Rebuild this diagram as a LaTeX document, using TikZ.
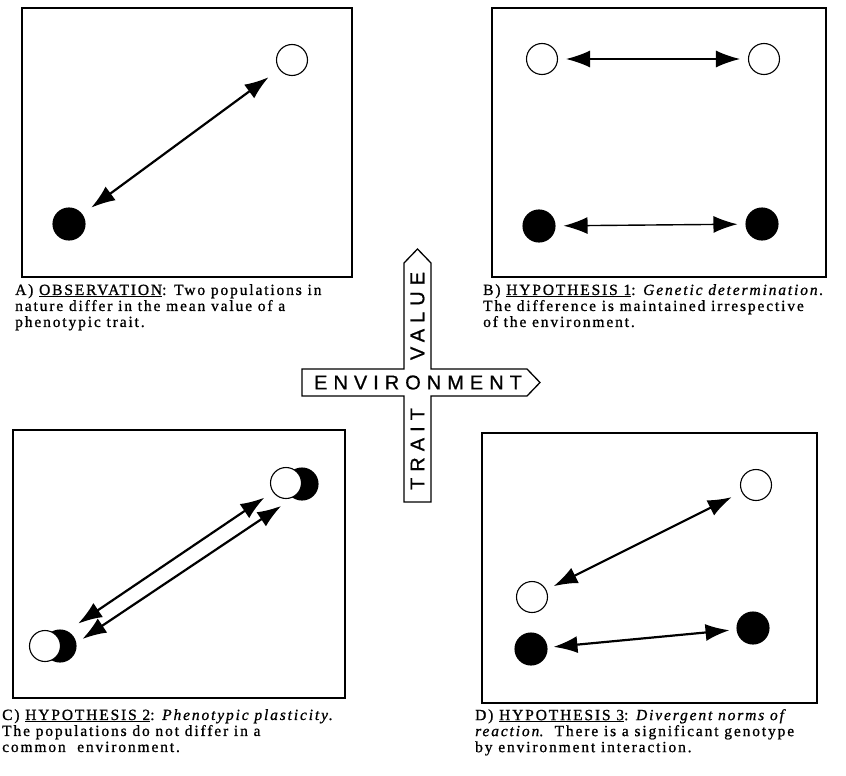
\documentclass[tikz,border=0pt]{standalone}
\usepackage{fontspec}
\setmainfont{Liberation Serif}
\newfontfamily\capfont[LetterSpace=12,FakeBold=1]{Liberation Serif}
\newfontfamily\signfont[LetterSpace=30,FakeBold=0.8]{Liberation Sans}
\usetikzlibrary{arrows.meta}

\begin{document}
\begin{tikzpicture}[
  x=1pt, y=-1pt,
  frame/.style={draw=black, line width=1.3pt},
  opendot/.style={circle, draw=black, fill=white, line width=1.1pt,
                  minimum size=31pt, inner sep=0pt},
  fulldot/.style={circle, draw=black, fill=black, line width=1.1pt,
                  minimum size=32pt, inner sep=0pt},
  arr/.style={{Latex[length=24pt,width=17pt]}-{Latex[length=24pt,width=17pt]},
              line width=2.2pt, shorten <=10pt, shorten >=10pt},
  thinarr/.style={arr, line width=1.4pt, shorten <=8pt, shorten >=8pt},
  caption/.style={anchor=north west, inner sep=0pt, align=left,
                  font=\capfont\fontsize{15.5}{16}\selectfont},
  sign/.style={font=\signfont\fontsize{20}{20}\selectfont, inner sep=0pt}
]
  \useasboundingbox (0,0) rectangle (846,776);

  %% ── Panel frames ──────────────────────────────────────────────────
  \draw[frame] (22,8)   rectangle (352,277);
  \draw[frame] (492,8)  rectangle (826,277);
  \draw[frame] (13,430) rectangle (345,698);
  \draw[frame] (482,433) rectangle (817,703);

  %% ── A) observation ────────────────────────────────────────────────
  \node[opendot] (aopen) at (292,60)  {};
  \node[fulldot] (afull) at (69,224)  {};
  \draw[arr, shorten <=11pt, shorten >=13pt] (afull) -- (aopen);

  %% ── B) hypothesis 1 ───────────────────────────────────────────────
  \node[opendot] (bopenl) at (542,59)  {};
  \node[opendot] (bopenr) at (764,59)  {};
  \node[fulldot] (bfulll) at (539,226) {};
  \node[fulldot] (bfullr) at (762,224) {};
  \draw[thinarr] (bopenl) -- (bopenr);
  \draw[thinarr] (bfulll) -- (bfullr);

  %% ── C) hypothesis 2 ───────────────────────────────────────────────
  \node[fulldot] (cfullr) at (302,484) {};
  \node[opendot] (copenr) at (286,483) {};
  \node[fulldot] (cfulll) at (60,646)  {};
  \node[opendot] (copenl) at (45,646)  {};
  \draw[arr, shorten <=24pt, shorten >=10pt] (copenl) -- (copenr);
  \draw[arr, shorten <=27pt, shorten >=25pt]
    ([yshift=-8pt]cfulll.center) -- ([yshift=-8pt]cfullr.center);

  %% ── D) hypothesis 3 ───────────────────────────────────────────────
  \node[opendot] (dopenr) at (756,485) {};
  \node[opendot] (dopenl) at (532,597) {};
  \node[fulldot] (dfulll) at (531,649) {};
  \node[fulldot] (dfullr) at (753,628) {};
  \draw[arr, shorten <=8pt, shorten >=11pt] (dopenl) -- (dopenr);
  \draw[arr, shorten <=6pt, shorten >=7pt] (dfulll) -- (dfullr);

  %% ── Axis sign in the middle ───────────────────────────────────────
  \draw[line width=1.3pt, fill=white]
    (404,502) -- (404,396) -- (302,396) -- (302,369) -- (404,369)
    -- (404,263) -- (417.5,249) -- (431,263) -- (431,369)
    -- (527,369) -- (540,382.5) -- (527,396) -- (431,396)
    -- (431,502) -- cycle;
  \node[sign] (env)   at (418,382.5)            {ENVIRONMENT};
  \node[sign, rotate=90] (value) at (417.5,316) {VALUE};
  \node[sign, rotate=90] (trait) at (417.5,449) {TRAIT};

  %% ── Captions ──────────────────────────────────────────────────────
  \node[caption] (capa) at (15,284)
    {A) \underline{OBSERVATION}: Two populations in\\
     nature differ in the mean value of a\\
     phenotypic trait.};
  \node[caption] (capb) at (483,284)
    {B) \underline{HYPOTHESIS 1}: \textit{Genetic determination.}\\
     The difference is maintained irrespective\\
     of the environment.};
  \node[caption] (capc) at (2,709)
    {C) \underline{HYPOTHESIS 2}: \textit{Phenotypic plasticity.}\\
     The populations do not differ in a\\
     common\ \ environment.};
  \node[caption] (capd) at (475,709)
    {D) \underline{HYPOTHESIS 3}: \textit{Divergent norms of}\\
     \textit{reaction}.\ \ There is a significant genotype\\
     by environment interaction.};
\end{tikzpicture}
\end{document}
